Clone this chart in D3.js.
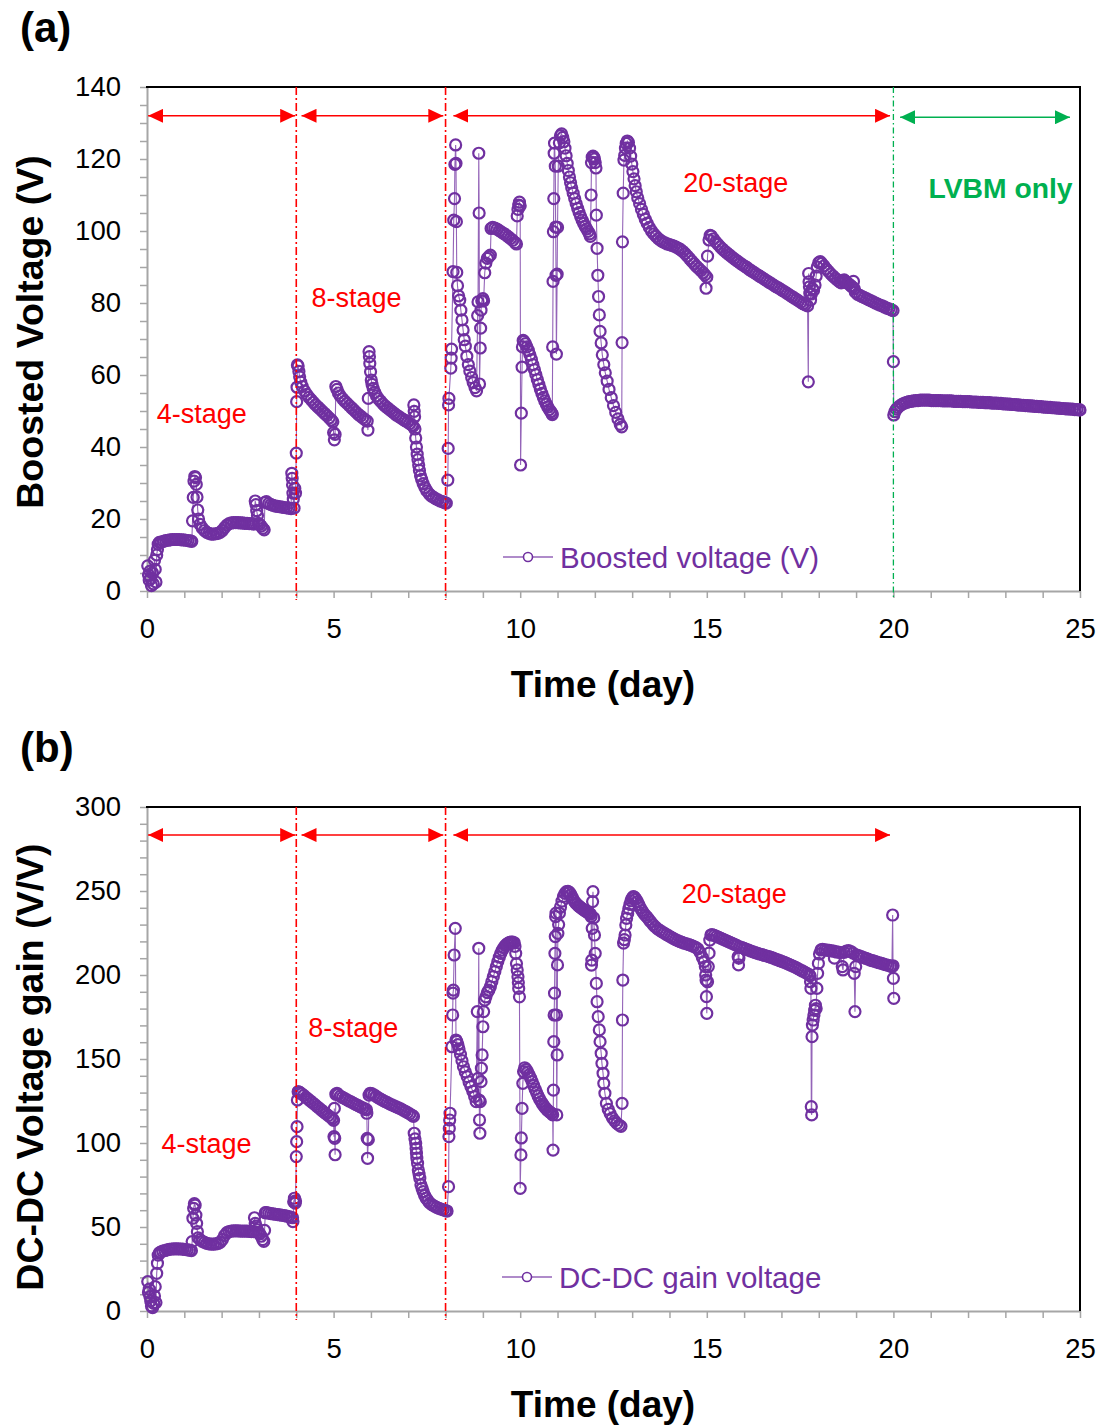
<!DOCTYPE html>
<html>
<head>
<meta charset="utf-8">
<script src="https://cdn.jsdelivr.net/npm/d3@7"></script>
<style>
  body { margin: 0; background: #fff; }
  text { font-family: "Liberation Sans", Arial, Helvetica, sans-serif; }
</style>
</head>
<body>
<svg id="chart" width="1100" height="1427"></svg>
<script>
// ---------------- DATA ----------------
const xMinorTicks = [0,1,2,3,4,5,6,7,8,9,10,11,12,13,14,15,16,17,18,19,20,21,22,23,24,25];
const xTickLabels = [0,5,10,15,20,25];
const yMinorTicksA = [0,5,10,15,20,25,30,35,40,45,50,55,60,65,70,75,80,85,90,95,100,105,110,115,120,125,130,135,140];
const yTickLabelsA = [0,20,40,60,80,100,120,140];
const yMinorTicksB = [0,10,20,30,40,50,60,70,80,90,100,110,120,130,140,150,160,170,180,190,200,210,220,230,240,250,260,270,280,290,300];
const yTickLabelsB = [0,50,100,150,200,250,300];

// Boosted voltage (V) vs time (day)
const boostedVoltage = [
[0.02,7.0],[0.04,4.5],[0.06,3.0],[0.08,5.5],[0.1,3.5],[0.12,1.5],[0.15,5.0],[0.17,2.0],[0.2,8.5],[0.22,6.0],[0.24,2.5],[0.26,10.0],[0.28,11.5],[0.3,13.0],[0.33,13.5],
[0.38,13.6],[0.44,13.8],[0.5,14.0],[0.56,14.1],[0.62,14.2],[0.68,14.3],[0.74,14.3],[0.8,14.3],[0.86,14.3],[0.92,14.2],[0.98,14.2],[1.04,14.1],[1.1,14.0],[1.16,13.9],[1.2,13.8],
[1.22,19.5],[1.24,26.0],[1.26,30.5],[1.28,31.8],[1.3,31.5],[1.32,29.6],[1.34,26.1],[1.36,22.5],[1.38,20.0],
[1.42,18.5],[1.48,17.5],[1.54,16.8],[1.6,16.3],[1.66,16.0],[1.72,15.8],[1.78,15.8],[1.84,15.9],[1.9,16.0],[1.96,16.3],[2.02,16.8],[2.08,17.6],[2.14,18.3],[2.2,18.7],[2.26,18.9],[2.32,19.0],[2.38,19.0],[2.44,19.0],[2.5,18.9],[2.56,18.9],[2.62,18.8],[2.68,18.8],[2.74,18.7],[2.8,18.7],[2.86,18.6],
[2.9,25.0],[2.92,24.0],[2.94,22.3],[2.96,21.0],[2.98,18.8],[3.02,18.5],[3.06,18.0],[3.1,17.4],[3.14,17.0],
[3.16,24.6],[3.2,24.8],[3.26,24.3],[3.32,24.0],[3.38,23.8],[3.44,23.6],[3.5,23.5],[3.56,23.4],[3.62,23.3],[3.68,23.2],[3.74,23.1],[3.8,23.0],[3.86,22.9],
[3.88,32.7],[3.89,31.3],[3.9,29.5],[3.91,27.2],[3.92,25.5],[3.94,23.0],[3.96,28.5],[3.98,27.2],
[4.0,38.3],[4.01,52.6],[4.02,56.6],[4.03,62.8],[4.05,62.5],[4.07,61.0],[4.09,59.5],[4.12,58.0],[4.16,56.8],[4.22,55.6],[4.28,54.6],[4.34,53.8],[4.4,53.1],[4.46,52.4],[4.52,51.7],[4.58,51.1],[4.64,50.5],[4.7,49.9],[4.76,49.3],[4.82,48.7],[4.88,48.1],[4.94,47.5],[4.98,47.0],
[5.0,44.0],[5.02,42.0],[5.04,43.5],
[5.06,56.8],[5.09,56.0],[5.13,55.0],[5.18,54.2],[5.24,53.4],[5.3,52.7],[5.36,52.1],[5.42,51.5],[5.48,50.9],[5.54,50.3],[5.6,49.7],[5.66,49.1],[5.72,48.6],[5.78,48.1],[5.84,47.6],[5.9,47.2],
[5.92,44.7],[5.93,53.5],[5.95,66.5],[5.96,65.1],[5.97,63.2],[5.99,60.9],[6.01,58.6],[6.03,57.4],[6.06,56.3],[6.1,55.2],[6.15,54.2],[6.2,53.4],[6.26,52.7],[6.32,52.0],[6.38,51.4],[6.44,50.9],[6.5,50.4],[6.56,49.9],[6.62,49.4],[6.68,48.9],[6.74,48.5],[6.8,48.1],[6.86,47.7],[6.92,47.3],[6.98,46.9],[7.04,46.5],[7.1,46.1],[7.13,45.8],
[7.15,51.7],[7.16,49.9],[7.17,48.4],[7.18,45.0],[7.2,42.5],[7.22,40.0],[7.24,38.0],[7.26,36.5],[7.28,35.0],[7.3,33.5],[7.33,32.0],[7.36,31.0],[7.4,29.8],[7.45,28.7],[7.5,27.8],[7.56,27.0],[7.62,26.4],[7.68,26.0],[7.74,25.6],[7.8,25.3],[7.86,25.0],[7.92,24.8],[7.98,24.5],[8.02,24.4],
[8.06,30.8],[8.07,39.6],[8.08,51.7],[8.09,53.5],[8.14,61.9],[8.15,64.7],[8.16,67.2],[8.2,88.7],[8.22,103.0],[8.24,109.0],[8.25,118.5],[8.27,123.9],[8.28,118.8],[8.29,102.6],[8.3,88.5],[8.32,84.8],[8.35,82.0],[8.38,80.8],[8.41,78.0],[8.44,75.3],[8.47,72.5],[8.5,69.8],[8.53,68.0],[8.57,65.2],[8.61,62.9],[8.65,61.1],[8.7,59.3],[8.74,57.9],[8.79,56.5],[8.83,55.6],
[8.86,76.5],[8.87,80.3],[8.89,121.6],[8.9,105.0],[8.91,57.5],[8.93,67.5],[8.94,73.0],[8.95,78.0],[8.97,80.6],[9.0,81.2],[9.02,80.6],[9.05,88.4],[9.08,91.1],[9.12,92.4],[9.16,92.9],[9.2,93.3],
[9.22,100.7],[9.26,101.0],[9.32,100.8],[9.38,100.5],[9.44,100.1],[9.5,99.7],[9.56,99.3],[9.62,98.9],[9.68,98.4],[9.74,97.9],[9.8,97.4],[9.86,96.8],[9.9,96.4],
[9.92,104.2],[9.94,106.0],[9.96,107.2],[9.98,108.0],[10.0,107.0],[10.01,35.0],[10.03,49.4],[10.05,62.2],[10.06,67.8],[10.08,69.6],
[10.1,69.3],[10.14,68.7],[10.18,67.8],[10.22,66.8],[10.26,65.6],[10.3,64.3],[10.34,62.9],[10.38,61.5],[10.42,60.1],[10.46,58.7],[10.5,57.4],[10.54,56.1],[10.58,54.9],[10.62,53.8],[10.66,52.8],[10.7,51.9],[10.74,51.1],[10.78,50.4],[10.82,49.8],[10.85,49.3],
[10.86,49.0],[10.87,67.8],[10.88,86.0],[10.89,99.8],[10.9,109.0],[10.91,121.6],[10.92,124.4],[10.94,118.0],[10.95,101.1],[10.96,87.7],[10.97,65.8],[10.99,88.0],[11.0,101.0],[11.02,118.0],[11.05,124.5],[11.08,126.5],[11.11,127.0],
[11.14,126.0],[11.17,124.8],[11.2,123.0],[11.23,120.9],[11.26,118.8],[11.29,116.8],[11.32,115.0],[11.35,113.4],[11.38,112.0],[11.42,110.5],[11.46,109.0],[11.5,107.6],[11.54,106.3],[11.58,105.1],[11.62,104.0],[11.66,103.0],[11.7,102.1],[11.74,101.3],[11.78,100.6],[11.82,99.9],[11.86,99.2],[11.88,98.5],
[11.9,110.0],[11.91,119.0],[11.93,120.5],[11.95,120.8],[11.97,120.5],[11.99,120.0],[12.01,119.0],[12.03,117.5],[12.04,104.4],[12.06,95.2],[12.08,87.7],[12.1,81.8],[12.12,76.7],[12.14,72.1],[12.17,68.9],[12.2,65.6],[12.24,62.9],[12.28,60.6],[12.33,58.3],[12.38,56.0],[12.44,53.7],[12.5,51.5],[12.56,49.6],[12.62,47.8],[12.68,46.3],[12.72,45.6],
[12.73,69.0],[12.74,97.0],[12.76,110.5],[12.78,119.7],[12.8,121.0],[12.82,123.0],[12.84,124.3],[12.87,125.0],
[12.9,124.6],[12.93,123.0],[12.96,120.8],[12.99,118.6],[13.02,116.5],[13.05,114.5],[13.08,112.6],[13.11,110.9],[13.15,109.2],[13.2,107.6],[13.25,106.0],[13.3,104.6],[13.35,103.3],[13.4,102.2],[13.46,101.0],[13.52,100.0],[13.58,99.2],[13.64,98.5],[13.7,97.9],[13.76,97.4],[13.82,97.0],[13.88,96.7],[13.94,96.4],[14.0,96.2],[14.06,96.0],[14.12,95.8],[14.18,95.5],[14.24,95.2],[14.3,94.8],[14.36,94.3],[14.42,93.7],[14.48,93.0],[14.54,92.3],[14.6,91.6],[14.66,90.9],[14.72,90.2],[14.78,89.6],[14.84,89.0],[14.9,88.4],[14.95,87.8],
[14.98,84.1],[15.0,87.2],[15.02,93.0],[15.06,97.5],[15.09,98.8],
[15.12,98.6],[15.18,97.8],[15.24,97.0],[15.3,96.3],[15.36,95.6],[15.42,95.0],[15.48,94.4],[15.54,93.9],[15.6,93.4],[15.66,92.9],[15.72,92.4],[15.78,91.9],[15.84,91.5],[15.9,91.0],[15.96,90.6],[16.02,90.2],[16.08,89.8],[16.14,89.3],[16.2,88.9],[16.26,88.5],[16.32,88.1],[16.38,87.7],[16.44,87.3],[16.5,86.9],[16.56,86.5],[16.62,86.1],[16.68,85.7],[16.74,85.3],[16.8,84.9],[16.86,84.5],[16.92,84.2],[16.98,83.8],[17.04,83.4],[17.1,83.0],[17.16,82.6],[17.22,82.2],[17.28,81.8],[17.34,81.4],[17.4,81.0],[17.46,80.6],[17.52,80.2],[17.58,79.8],[17.64,79.5],[17.7,79.2],
[17.72,58.1],[17.73,88.2],[17.74,85.9],[17.75,84.5],[17.76,82.7],[17.78,80.8],[17.8,82.5],[17.83,84.0],[17.86,83.5],[17.9,85.0],[17.93,87.5],[17.96,90.0],[18.0,91.2],[18.04,91.5],[18.08,91.0],[18.14,90.3],[18.2,89.5],[18.26,88.8],[18.32,88.1],[18.38,87.5],[18.44,86.9],[18.5,86.4],[18.56,85.9],[18.6,85.6],[18.64,86.2],[18.68,86.4],[18.72,86.0],[18.76,85.6],[18.8,85.3],[18.86,84.8],[18.9,84.4],[18.93,86.0],[18.95,84.0],[18.98,83.0],
[19.04,82.4],[19.1,82.1],[19.16,81.8],[19.22,81.5],[19.28,81.2],[19.34,80.9],[19.4,80.6],[19.46,80.3],[19.52,80.0],[19.58,79.7],[19.64,79.4],[19.7,79.2],[19.76,78.9],[19.82,78.6],[19.88,78.4],[19.94,78.1],[19.99,77.9],
[20.0,63.7],[20.01,48.9],[20.04,49.8],[20.08,50.5],[20.12,51.0],[20.18,51.5],[20.24,51.9],[20.3,52.2],[20.36,52.4],[20.42,52.6],[20.48,52.7],[20.54,52.8],[20.6,52.9],[20.66,52.9],[20.72,53.0],[20.78,53.0],[20.84,53.0],[20.9,53.0],[20.96,53.0],
[21.02,52.9],[21.08,52.9],[21.14,52.9],[21.2,52.9],[21.26,52.9],[21.32,52.8],[21.38,52.8],[21.44,52.8],[21.5,52.8],[21.56,52.8],[21.62,52.7],[21.68,52.7],[21.74,52.7],[21.8,52.7],[21.86,52.6],[21.92,52.6],[21.98,52.6],[22.04,52.6],[22.1,52.5],[22.16,52.5],[22.22,52.5],[22.28,52.4],[22.34,52.4],[22.4,52.4],[22.46,52.3],[22.52,52.3],[22.58,52.3],[22.64,52.2],[22.7,52.2],[22.76,52.2],[22.82,52.1],[22.88,52.1],[22.94,52.0],[23.0,52.0],[23.06,51.9],[23.12,51.9],[23.18,51.8],[23.24,51.8],[23.3,51.7],[23.36,51.7],[23.42,51.6],[23.48,51.6],[23.54,51.5],[23.6,51.5],[23.66,51.4],[23.72,51.4],[23.78,51.3],[23.84,51.3],[23.9,51.2],[23.96,51.2],[24.02,51.1],[24.08,51.1],[24.14,51.0],[24.2,51.0],[24.26,50.9],[24.32,50.9],[24.38,50.8],[24.44,50.8],[24.5,50.7],[24.56,50.7],[24.62,50.6],[24.68,50.6],[24.74,50.5],[24.8,50.5],[24.86,50.4],[24.92,50.4],[24.98,50.3],[25.0,50.3]
];

// DC-DC voltage gain (V/V) vs time (day)
const gainVoltage = [
[0.02,17.5],[0.04,11.0],[0.06,13.0],[0.08,8.5],[0.1,6.0],[0.12,3.0],[0.15,2.0],[0.18,4.5],[0.2,9.0],[0.22,14.5],[0.24,5.0],[0.26,22.4],[0.28,28.4],[0.3,33.3],[0.33,34.5],
[0.36,35.0],[0.42,35.6],[0.48,36.0],[0.54,36.4],[0.6,36.7],[0.66,36.9],[0.72,37.0],[0.78,37.0],[0.84,37.0],[0.9,36.9],[0.96,36.8],[1.02,36.6],[1.08,36.4],[1.14,36.2],[1.19,35.9],
[1.21,41.3],[1.23,55.2],[1.25,61.1],[1.27,63.9],[1.29,63.0],[1.31,57.1],[1.33,52.2],[1.35,47.2],[1.37,43.5],
[1.42,42.5],[1.48,41.5],[1.54,40.8],[1.6,40.3],[1.66,40.0],[1.72,39.8],[1.78,39.8],[1.84,39.9],[1.9,40.2],[1.96,40.9],[2.02,42.5],[2.08,45.0],[2.14,46.6],[2.2,47.3],[2.26,47.6],[2.32,47.7],[2.38,47.7],[2.44,47.7],[2.5,47.6],[2.56,47.6],[2.62,47.5],[2.68,47.5],[2.74,47.4],[2.8,47.3],[2.86,47.2],
[2.88,55.5],[2.9,52.2],[2.92,50.5],[2.95,48.5],[2.98,47.0],[3.02,46.0],[3.06,44.5],[3.1,42.5],[3.13,41.5],[3.15,48.0],
[3.17,58.5],[3.2,58.5],[3.26,58.3],[3.32,58.0],[3.38,57.8],[3.44,57.6],[3.5,57.4],[3.56,57.2],[3.62,57.0],[3.68,56.8],[3.74,56.5],[3.8,56.2],[3.86,55.8],[3.9,55.5],
[3.91,53.2],[3.93,65.0],[3.95,67.1],[3.97,64.2],[3.98,65.5],
[4.0,91.9],[4.01,100.8],[4.02,109.7],[4.03,125.6],[4.05,130.5],
[4.06,130.5],[4.1,130.0],[4.14,129.3],[4.2,128.3],[4.26,127.2],[4.32,126.1],[4.38,125.0],[4.44,123.9],[4.5,122.8],[4.56,121.7],[4.62,120.6],[4.68,119.5],[4.74,118.4],[4.8,117.3],[4.86,116.3],[4.92,115.3],[4.97,114.5],[5.0,113.5],
[5.01,103.8],[5.02,120.6],[5.03,102.8],[5.04,93.0],
[5.06,129.0],[5.09,129.6],[5.12,128.8],[5.18,127.9],[5.24,127.1],[5.3,126.4],[5.36,125.7],[5.42,125.0],[5.48,124.3],[5.54,123.6],[5.6,122.9],[5.66,122.2],[5.72,121.5],[5.78,120.9],[5.84,120.3],[5.88,119.8],
[5.89,117.7],[5.9,102.8],[5.91,90.9],[5.93,102.0],
[5.95,128.5],[5.98,129.6],[6.02,129.4],[6.08,128.7],[6.14,127.8],[6.2,126.9],[6.26,126.1],[6.32,125.4],[6.38,124.7],[6.44,124.0],[6.5,123.3],[6.56,122.7],[6.62,122.1],[6.68,121.5],[6.74,120.9],[6.8,120.3],[6.86,119.6],[6.92,118.9],[6.98,118.1],[7.04,117.3],[7.1,116.5],[7.14,115.8],
[7.16,105.8],[7.18,102.5],[7.2,99.8],[7.21,96.8],[7.22,93.9],[7.23,91.0],[7.25,88.0],[7.27,84.0],[7.29,81.5],[7.31,79.0],[7.34,75.1],[7.37,73.0],[7.4,71.0],[7.44,68.8],[7.48,67.1],[7.53,65.6],[7.58,64.2],[7.64,63.2],[7.7,62.4],[7.76,61.7],[7.82,61.1],[7.88,60.6],[7.94,60.2],[8.0,59.8],[8.04,59.5],
[8.08,74.0],[8.09,103.8],[8.1,108.7],[8.11,113.7],[8.12,117.7],[8.17,157.3],[8.19,176.2],[8.2,189.2],[8.21,191.0],[8.23,211.9],[8.26,227.8],[8.28,161.3],[8.3,160.5],[8.33,158.5],[8.36,156.0],[8.4,152.8],[8.44,149.0],[8.48,145.4],[8.53,142.3],[8.58,139.5],[8.63,136.3],[8.68,133.5],[8.73,130.8],[8.78,127.6],[8.82,124.6],
[8.85,178.2],[8.87,138.5],[8.89,215.9],[8.9,125.6],[8.91,113.7],[8.92,105.8],[8.93,124.6],[8.95,136.5],[8.96,144.5],[8.98,152.4],[9.0,169.2],[9.02,178.2],[9.05,185.0],
[9.08,187.0],[9.12,189.5],[9.16,191.0],[9.2,193.0],[9.24,196.0],[9.28,199.0],[9.32,202.0],[9.36,205.0],[9.4,208.0],[9.44,210.6],[9.48,212.9],[9.52,214.8],[9.56,216.3],[9.6,217.5],[9.64,218.4],[9.68,219.0],[9.72,219.4],[9.76,219.6],[9.8,219.6],[9.84,219.2],
[9.86,217.0],[9.88,212.9],[9.9,206.8],[9.92,203.0],[9.94,199.0],[9.95,195.5],[9.96,192.0],[9.98,187.0],
[10.0,73.0],[10.02,92.9],[10.03,103.0],[10.05,120.6],[10.07,135.5],[10.09,142.5],
[10.12,144.8],[10.16,143.8],[10.2,142.3],[10.24,140.6],[10.28,138.6],[10.32,136.5],[10.36,134.3],[10.4,132.1],[10.44,130.0],[10.48,128.0],[10.52,126.2],[10.56,124.6],[10.6,123.2],[10.64,121.9],[10.68,120.8],[10.72,119.8],[10.76,119.0],[10.8,118.3],[10.84,117.7],[10.87,116.8],
[10.88,95.8],[10.89,131.5],[10.9,160.3],[10.91,176.2],[10.92,189.2],[10.93,212.9],[10.94,222.9],[10.95,234.7],[10.96,236.8],[10.97,176.2],[10.98,116.7],[10.99,152.4],[11.0,206.0],[11.01,224.8],[11.03,230.0],[11.05,236.8],[11.08,240.5],[11.12,244.0],[11.16,246.8],[11.2,248.6],[11.24,249.6],[11.28,249.8],[11.32,249.2],[11.36,247.8],[11.4,246.0],[11.44,244.2],[11.48,243.0],[11.52,242.0],[11.56,241.2],[11.6,240.5],[11.64,239.8],[11.68,239.1],[11.72,238.5],[11.76,237.9],[11.8,237.3],[11.84,236.8],[11.88,236.3],
[11.9,234.7],[11.91,205.9],[11.92,208.9],[11.93,227.8],[11.94,243.7],[11.95,249.6],[11.97,234.0],[11.99,223.8],[12.01,212.9],
[12.04,195.0],[12.06,184.1],[12.09,175.2],[12.12,167.3],[12.14,160.3],[12.17,153.4],[12.19,147.4],[12.22,141.5],[12.24,135.5],[12.27,129.6],[12.31,123.6],[12.36,120.0],[12.41,117.5],[12.47,115.0],[12.53,113.2],[12.59,111.7],[12.65,110.6],[12.7,109.9],
[12.73,123.6],[12.74,173.2],[12.75,197.0],[12.77,219.0],[12.79,221.0],[12.81,223.8],[12.83,229.8],[12.85,233.7],[12.88,236.5],[12.91,239.5],[12.94,242.0],[12.97,244.2],[13.0,245.8],[13.03,246.6],[13.06,246.3],[13.1,245.2],[13.14,243.6],[13.18,241.8],[13.22,240.0],[13.26,238.4],[13.3,237.0],[13.35,235.6],[13.4,234.4],[13.45,233.0],[13.5,231.6],[13.56,230.0],[13.62,228.6],[13.68,227.5],[13.74,226.6],[13.8,225.7],[13.86,224.9],[13.92,224.1],[13.98,223.3],[14.04,222.5],[14.1,221.8],[14.16,221.1],[14.22,220.5],[14.28,219.9],[14.34,219.4],[14.4,218.9],[14.46,218.5],[14.52,218.1],[14.58,217.6],[14.64,217.0],[14.7,216.4],[14.76,215.6],[14.82,213.5],[14.88,210.5],[14.93,208.0],[14.96,205.0],
[14.97,200.0],[14.98,197.0],[14.99,187.1],[15.0,177.2],[15.02,196.0],[15.04,205.0],[15.06,213.0],[15.08,220.8],[15.11,223.8],
[15.14,224.0],[15.2,223.6],[15.26,223.0],[15.32,222.4],[15.38,221.8],[15.44,221.2],[15.5,220.6],[15.56,220.0],[15.62,219.4],[15.68,218.8],[15.74,218.2],[15.8,217.6],[15.84,210.9],[15.85,206.0],[15.86,210.0],[15.88,216.8],[15.94,216.3],[16.0,215.8],[16.06,215.3],[16.12,214.8],[16.18,214.3],[16.24,213.8],[16.3,213.3],[16.36,212.9],[16.42,212.5],[16.48,212.1],[16.54,211.7],[16.6,211.3],[16.66,210.9],[16.72,210.5],[16.78,210.0],[16.84,209.5],[16.9,209.0],[16.96,208.5],[17.02,208.0],[17.08,207.5],[17.14,206.9],[17.2,206.3],[17.26,205.7],[17.32,205.1],[17.38,204.5],[17.44,203.8],[17.5,203.1],[17.56,202.4],[17.62,201.7],[17.68,201.0],[17.74,200.2],[17.77,199.5],
[17.78,196.0],[17.79,192.0],[17.8,121.6],[17.81,116.7],[17.82,163.3],[17.83,170.2],[17.85,173.2],[17.87,176.2],[17.89,179.0],[17.91,182.0],[17.93,180.0],[17.95,192.0],[17.97,201.0],[17.99,206.9],[18.02,212.5],[18.06,214.9],
[18.1,215.2],[18.16,215.0],[18.22,214.8],[18.28,214.6],[18.34,214.4],[18.4,214.2],[18.42,210.0],[18.46,213.8],[18.52,213.6],[18.58,213.4],[18.63,205.0],[18.65,203.0],[18.68,213.5],[18.74,214.3],[18.8,214.5],[18.86,214.0],[18.92,213.0],[18.95,201.0],[18.97,178.2],[18.99,205.0],
[19.02,211.9],[19.08,211.4],[19.14,210.9],[19.2,210.4],[19.26,209.9],[19.32,209.4],[19.38,208.9],[19.44,208.5],[19.5,208.1],[19.56,207.7],[19.62,207.3],[19.68,206.9],[19.74,206.5],[19.8,206.1],[19.86,205.7],[19.92,205.3],[19.96,205.0],
[19.98,235.7],[19.99,205.5],[20.0,198.0],[20.01,186.1]
];

// stage boundaries (day) and annotation arrows [start day, end day]
const stageBoundariesA = [4, 8, 20];
const stageBoundariesB = [4, 8];
const stageArrowsA = [[0.03, 3.97], [4.14, 7.94], [8.21, 19.91], [20.18, 24.73]];
const stageArrowsB = [[0.03, 3.97], [4.14, 7.94], [8.21, 19.91]];
const stageNamesA = ["4-stage", "8-stage", "20-stage", "LVBM only"];
const stageNamesB = ["4-stage", "8-stage", "20-stage"];

// ---------------- DRAW ----------------
const PURPLE = "#7030A0", RED = "#FF0000", GREEN = "#00B050", AXIS = "#A6A6A6";
const svg = d3.select("#chart");
svg.append("rect").attr("width", 1100).attr("height", 1427).attr("fill", "#fff");

const defs = svg.append("defs");
[["arrRed", RED], ["arrGreen", GREEN]].forEach(([id, c]) => {
  defs.append("marker").attr("id", id)
    .attr("viewBox", "0 0 15 14").attr("refX", 15).attr("refY", 7)
    .attr("markerWidth", 15).attr("markerHeight", 14)
    .attr("markerUnits", "userSpaceOnUse").attr("orient", "auto-start-reverse")
    .append("path").attr("d", "M0,0L15,7L0,14Z").attr("fill", c);
});

function drawPanel(cfg) {
  const top = cfg.top, bottom = cfg.top + 504;
  const x = d3.scaleLinear().domain([0, 25]).range([147, 1080]);
  const y = d3.scaleLinear().domain([0, cfg.yMax]).range([bottom, top]);
  const g = svg.append("g");

  // panel letter
  g.append("text").attr("x", 20).attr("y", top - 45).attr("font-size", 42)
    .attr("font-weight", "bold").text(cfg.letter);

  // axes
  const yAxis = d3.axisLeft(y).tickValues(cfg.yMinor).tickSize(7).tickSizeOuter(0)
    .tickPadding(19).tickFormat(d => cfg.yLabels.includes(d) ? d : "");
  const xAxis = d3.axisBottom(x).tickValues(xMinorTicks).tickSize(7).tickSizeOuter(0)
    .tickPadding(20).tickFormat(d => xTickLabels.includes(d) ? d : "");
  const ga = g.append("g").attr("transform", `translate(147,0)`).call(yAxis);
  const gb = g.append("g").attr("transform", `translate(0,${bottom})`).call(xAxis);
  [ga, gb].forEach(a => {
    a.select(".domain").attr("stroke", AXIS).attr("stroke-width", 2);
    a.selectAll(".tick line").attr("stroke", AXIS).attr("stroke-width", 1.5);
    a.selectAll(".tick text").attr("font-size", 27.5).attr("fill", "#000")
      .attr("font-family", '"Liberation Sans", Arial, sans-serif');
  });
  // top/right frame
  g.append("line").attr("x1", 146).attr("x2", 1081).attr("y1", top).attr("y2", top)
    .attr("stroke", "#000").attr("stroke-width", 2);
  g.append("line").attr("x1", 1080).attr("x2", 1080).attr("y1", top).attr("y2", bottom)
    .attr("stroke", "#000").attr("stroke-width", 2);

  // axis titles
  g.append("text").attr("x", 603).attr("y", bottom + 106).attr("text-anchor", "middle")
    .attr("font-size", 37).attr("font-weight", "bold").text("Time (day)");
  g.append("text").attr("transform", `translate(43,${cfg.yTitleCenter}) rotate(-90)`)
    .attr("text-anchor", "middle").attr("font-size", 37.5).attr("font-weight", "bold")
    .text(cfg.yTitle);

  // series line + markers
  const line = d3.line().x(d => x(d[0])).y(d => y(d[1]));
  g.append("path").datum(cfg.data).attr("d", line).attr("fill", "none")
    .attr("stroke", PURPLE).attr("stroke-width", 1.1).attr("stroke-opacity", 0.75);
  g.append("g").selectAll("circle").data(cfg.data).join("circle")
    .attr("cx", d => x(d[0])).attr("cy", d => y(d[1])).attr("r", 5.5)
    .attr("fill", "none").attr("stroke", PURPLE).attr("stroke-width", 2.2);

  // stage boundaries
  cfg.boundaries.forEach(t => {
    const green = t === 20;
    g.append("line").attr("x1", x(t)).attr("x2", x(t)).attr("y1", top).attr("y2", bottom + 9)
      .attr("stroke", green ? GREEN : RED).attr("stroke-width", green ? 1.3 : 1.6)
      .attr("stroke-dasharray", green ? "6,3,1.5,3" : "8,3,2,3");
  });

  // arrows
  cfg.arrows.forEach(a => {
    const green = a[0] >= 20;
    const yy = y(cfg.arrowLevel) + (green ? 1.5 : 0);
    g.append("line").attr("x1", x(a[0])).attr("x2", x(a[1])).attr("y1", yy).attr("y2", yy)
      .attr("stroke", green ? GREEN : RED).attr("stroke-width", 1.5)
      .attr("marker-start", `url(#${green ? "arrGreen" : "arrRed"})`)
      .attr("marker-end", `url(#${green ? "arrGreen" : "arrRed"})`);
  });

  // stage names
  cfg.names.forEach((n, i) => {
    const p = cfg.namePos[i];
    const green = n === "LVBM only";
    g.append("text").attr("x", x(p[0])).attr("y", y(p[1]))
      .attr("font-size", green ? 28.3 : 27).attr("font-weight", green ? "bold" : "normal")
      .attr("fill", green ? GREEN : RED).text(n);
  });

  // legend
  const L = cfg.legend;
  g.append("line").attr("x1", L.x).attr("x2", L.x + 50).attr("y1", L.y).attr("y2", L.y)
    .attr("stroke", PURPLE).attr("stroke-width", 1.5).attr("stroke-opacity", 0.75);
  g.append("circle").attr("cx", L.x + 25).attr("cy", L.y).attr("r", 4.5)
    .attr("fill", "#fff").attr("stroke", PURPLE).attr("stroke-width", 1.6);
  g.append("text").attr("x", L.x + 57).attr("y", L.y + 10.5).attr("font-size", 29.5)
    .attr("fill", PURPLE).text(L.text);
}

drawPanel({
  letter: "(a)", top: 87, yMax: 140, yMinor: yMinorTicksA, yLabels: yTickLabelsA,
  yTitle: "Boosted Voltage (V)", yTitleCenter: 332, data: boostedVoltage,
  boundaries: stageBoundariesA, arrows: stageArrowsA, arrowLevel: 132,
  names: stageNamesA, namePos: [[0.26, 46.7], [4.41, 79.0], [14.37, 110.9], [20.94, 109.1]],
  legend: { x: 503, y: 557, text: "Boosted voltage (V)" }
});
drawPanel({
  letter: "(b)", top: 807, yMax: 300, yMinor: yMinorTicksB, yLabels: yTickLabelsB,
  yTitle: "DC-DC Voltage gain (V/V)", yTitleCenter: 1067, data: gainVoltage,
  boundaries: stageBoundariesB, arrows: stageArrowsB, arrowLevel: 283.3,
  names: stageNamesB, namePos: [[0.39, 94.2], [4.32, 162.9], [14.33, 243.0]],
  legend: { x: 502, y: 1277, text: "DC-DC gain voltage" }
});
</script>
</body>
</html>
